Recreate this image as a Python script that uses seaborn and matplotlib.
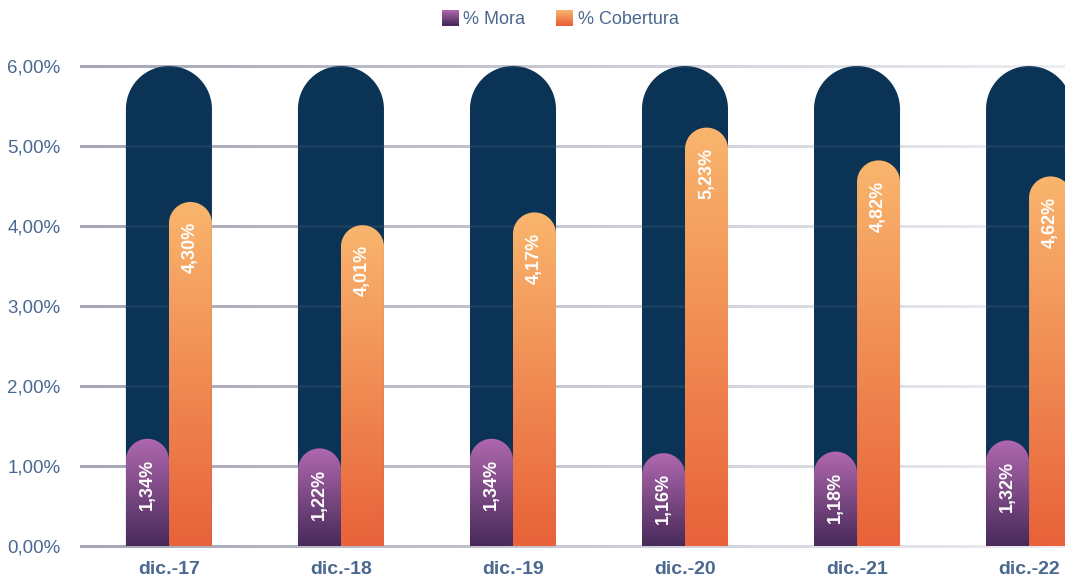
import numpy as np
import pandas as pd
import matplotlib
matplotlib.use('Agg')
import matplotlib.pyplot as plt
import seaborn as sns
from matplotlib.path import Path
from matplotlib.patches import PathPatch, Rectangle
from matplotlib.colors import LinearSegmentedColormap
from matplotlib.collections import LineCollection
from matplotlib.legend_handler import HandlerBase

# data
periods = ['dic.-17', 'dic.-18', 'dic.-19', 'dic.-20', 'dic.-21', 'dic.-22']
mora = [1.34, 1.22, 1.34, 1.16, 1.18, 1.32]
cobertura = [4.30, 4.01, 4.17, 5.23, 4.82, 4.62]
fondo = [6.0, 6.0, 6.0, 6.0, 6.0, 6.0]
series = ['% Mora', '% Cobertura']
y_ticks = [0, 1, 2, 3, 4, 5, 6]

df = pd.DataFrame({
    'periodo': periods * 2,
    'serie': [series[0]] * len(periods) + [series[1]] * len(periods),
    'valor': mora + cobertura,
})

navy = '#0a3356'
text_col = '#4b6890'
cmap_mora = LinearSegmentedColormap.from_list('mora', ['#b068ae', '#472a5a'])
cmap_cob = LinearSegmentedColormap.from_list('cob', ['#f9b56d', '#e8623a'])

sns.set_style('white')
plt.rcParams['font.family'] = ['Liberation Sans', 'DejaVu Sans']

W, H = 1065, 581
fig = plt.figure(figsize=(W / 100, H / 100), dpi=100)
ax_l, ax_b, ax_w, ax_h = 80, 35, 985, 480
ax = fig.add_axes([ax_l / W, ax_b / H, ax_w / W, ax_h / H])

sns.barplot(x=periods, y=fondo, color=navy, width=0.5, ax=ax)
sns.barplot(data=df, x='periodo', y='valor', hue='serie', order=periods,
            palette=['#8a4a8a', '#f08a50'], width=0.5, ax=ax, legend=False)

xlim = (-0.517, 5.209)
ylim = (0, 6)
ax.set_xlim(*xlim)
ax.set_ylim(*ylim)
px_x = ax_w / (xlim[1] - xlim[0])
px_y = ax_h / (ylim[1] - ylim[0])


def rounded_path(x0, x1, y0, y1):
    rx = (x1 - x0) / 2
    ry = rx * px_x / px_y
    cx = x0 + rx
    t = np.linspace(np.pi, 0, 60)
    verts = [(x0, y0), (x0, y1 - ry)]
    verts += [(cx + rx * np.cos(a), y1 - ry + ry * np.sin(a)) for a in t]
    verts += [(x1, y0), (x0, y0)]
    codes = [Path.MOVETO] + [Path.LINETO] * (len(verts) - 2) + [Path.CLOSEPOLY]
    return Path(verts, codes)


grad = np.linspace(0, 1, 256).reshape(-1, 1)

# navy background pills
for bar in ax.containers[0]:
    x0, w, h = bar.get_x(), bar.get_width(), bar.get_height()
    bar.set_visible(False)
    ax.add_patch(PathPatch(rounded_path(x0, x0 + w, 0, h), facecolor=navy,
                           edgecolor='none', zorder=2))

# series bars with gradients and labels
for cont, cmap in zip(ax.containers[1:3], [cmap_mora, cmap_cob]):
    for bar in cont:
        x0, w, h = bar.get_x(), bar.get_width(), bar.get_height()
        bar.set_visible(False)
        clip = PathPatch(rounded_path(x0, x0 + w, 0, h), facecolor='none',
                         edgecolor='none', transform=ax.transData)
        ax.add_patch(clip)
        im = ax.imshow(grad, cmap=cmap, extent=[x0, x0 + w, 0, h],
                       aspect='auto', origin='upper', zorder=4)
        im.set_clip_path(clip)
        ax.annotate(f'{h:.2f}%'.replace('.', ','), (x0 + w / 2, h),
                    xytext=(0, -20), textcoords='offset pixels',
                    rotation=90, ha='center', va='top', color='white',
                    fontsize=13, fontweight='bold', zorder=5)

ax.set_xlim(*xlim)
ax.set_ylim(*ylim)

# fading gridlines
n = 200
xs = np.linspace(0, 1, n + 1)
fade = LinearSegmentedColormap.from_list('fade', ['#9fa0b2', '#ececf1'])
for yv in y_ticks:
    segs = [[(xs[i], yv), (xs[i + 1], yv)] for i in range(n)]
    lc = LineCollection(segs, colors=fade(xs[:-1]), linewidths=1.8,
                        antialiaseds=False, capstyle='butt',
                        transform=ax.get_yaxis_transform(), zorder=1, clip_on=False)
    ax.add_collection(lc)
    ax.plot([0, 1], [yv, yv], color='white', alpha=0.07, lw=1.8,
            transform=ax.get_yaxis_transform(), zorder=3, clip_on=False)

ax.set_yticks(y_ticks)
ax.set_yticklabels([f'{v:.2f}%'.replace('.', ',') for v in y_ticks],
                   fontsize=13.5, color=text_col)
ax.set_xticks(range(len(periods)))
ax.set_xticklabels(periods, fontsize=14, fontweight='bold', color=text_col)
ax.tick_params(axis='y', length=0, pad=14)
ax.tick_params(axis='x', length=0, pad=11)
ax.set_xlabel(None)
ax.set_ylabel(None)
for s in ax.spines.values():
    s.set_visible(False)


class HandlerGradient(HandlerBase):
    def __init__(self, cmap):
        super().__init__()
        self.cmap = cmap

    def create_artists(self, legend, orig_handle, xdescent, ydescent,
                       width, height, fontsize, trans):
        k = 20
        arts = []
        for i in range(k):
            arts.append(Rectangle((-xdescent, -ydescent + height * (k - 1 - i) / k),
                                  width, height / k + 0.3,
                                  facecolor=self.cmap(i / (k - 1)),
                                  edgecolor='none', transform=trans))
        return arts


h1 = Rectangle((0, 0), 1, 1)
h2 = Rectangle((0, 0), 1, 1)
fig.legend([h1, h2], series, loc='center', bbox_to_anchor=(560 / W, 1 - 19 / H),
           ncol=2, frameon=False, fontsize=13, labelcolor=text_col,
           handlelength=0.95, handleheight=0.95, handletextpad=0.25,
           columnspacing=1.7,
           handler_map={h1: HandlerGradient(cmap_mora), h2: HandlerGradient(cmap_cob)})

fig.savefig('out.png', dpi=100)
